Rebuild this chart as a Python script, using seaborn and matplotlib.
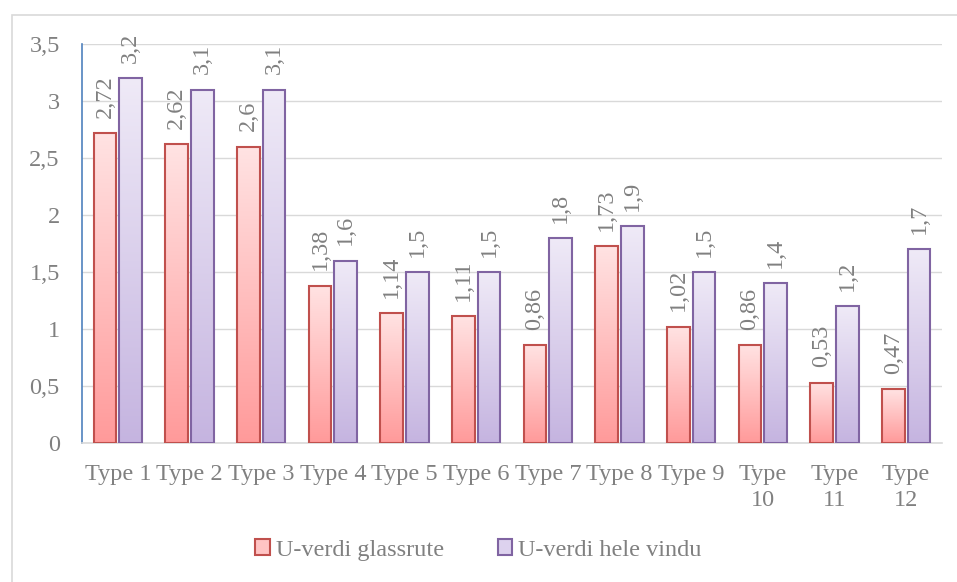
import matplotlib.pyplot as plt
import numpy as np
import pandas as pd
import seaborn as sns
from matplotlib.colors import LinearSegmentedColormap
from matplotlib.patches import Patch, Rectangle

types = ['Type 1', 'Type 2', 'Type 3', 'Type 4', 'Type 5', 'Type 6',
         'Type 7', 'Type 8', 'Type 9', 'Type\n10', 'Type\n11', 'Type\n12']
glassrute = [2.72, 2.62, 2.6, 1.38, 1.14, 1.11, 0.86, 1.73, 1.02, 0.86, 0.53, 0.47]
hele_vindu = [3.2, 3.1, 3.1, 1.6, 1.5, 1.5, 1.8, 1.9, 1.5, 1.4, 1.2, 1.7]
series = ['U-verdi glassrute', 'U-verdi hele vindu']

df = pd.DataFrame({'type': types * 2,
                   'verdi': glassrute + hele_vindu,
                   'serie': [series[0]] * 12 + [series[1]] * 12})

sns.set_style('white')
plt.rcParams['font.family'] = ['Liberation Serif', 'DejaVu Serif']
txt = '#808080'
fs = 17.5

fig = plt.figure(figsize=(9.57, 5.82), dpi=100)
ax = fig.add_axes([82 / 957, 139 / 582, 860 / 957, 399 / 582])

edges = ['#c0504d', '#8064a2']
grads = [LinearSegmentedColormap.from_list('r', ['#ff9a9a', '#ffe3e3']),
         LinearSegmentedColormap.from_list('p', ['#c5b4e0', '#efeaf7'])]
mids = ['#ffc4c4', '#ddd2ee']

sns.barplot(data=df, x='type', y='verdi', hue='serie', order=types,
            hue_order=series, width=0.72, gap=0.12, legend=False, ax=ax,
            palette=mids, edgecolor='none', linewidth=0, zorder=3)

grad = np.linspace(0, 1, 256).reshape(-1, 1)
for i, cont in enumerate(ax.containers):
    for bar in cont:
        x, y = bar.get_x(), bar.get_y()
        w, h = bar.get_width(), bar.get_height()
        im = ax.imshow(grad, extent=[x, x + w, y, y + h], aspect='auto',
                       cmap=grads[i], origin='lower', zorder=2.5)
        im.set_clip_path(bar)
        bar.set_facecolor('none')
        bar.set_edgecolor(edges[i])
        bar.set_linewidth(1.5)
    labels = [str(v).replace('.', ',') for v in cont.datavalues]
    ax.bar_label(cont, labels=labels, rotation=90, padding=11,
                 fontsize=fs, color=txt)

ax.set_xlim(-0.5, 11.5)
ax.set_ylim(0, 3.5)
ax.set_yticks(np.arange(0, 3.51, 0.5))
ax.set_yticklabels([f'{v:g}'.replace('.', ',') for v in np.arange(0, 3.51, 0.5)])
ax.grid(axis='y', color='#d9d9d9', linewidth=1)
ax.set_axisbelow(True)
ax.set_xlabel('')
ax.set_ylabel('')
ax.tick_params(axis='both', length=0, labelsize=fs, colors=txt)
ax.tick_params(axis='y', pad=16)
ax.tick_params(axis='x', pad=15)
for lbl in ax.get_xticklabels():
    lbl.set_linespacing(1.3)
    lbl.set_verticalalignment('top')

for s in ['top', 'right']:
    ax.spines[s].set_visible(False)
ax.spines['left'].set_color('#4f81bd')
ax.spines['left'].set_linewidth(1.2)
ax.spines['bottom'].set_color('#d9d9d9')
ax.spines['bottom'].set_linewidth(1.2)

handles = [Patch(facecolor=mids[i], edgecolor=edges[i], linewidth=1.5)
           for i in range(2)]
fig.legend(handles, series, loc='center', bbox_to_anchor=(0.5, 0.055),
           ncol=2, frameon=False, fontsize=fs, labelcolor=txt,
           handlelength=0.6, handleheight=0.6, handletextpad=0.25,
           columnspacing=2.2)

fig.patches.append(Rectangle((12 / 957, -10 / 582), 960 / 957, 577 / 582,
                             transform=fig.transFigure, fill=False,
                             edgecolor='#d9d9d9', linewidth=1.2))

fig.savefig('out.png', dpi=100)
